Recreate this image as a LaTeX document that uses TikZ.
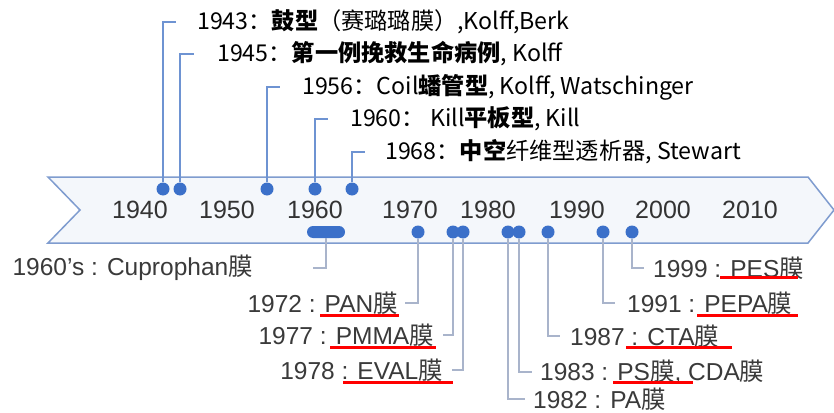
\documentclass[tikz,border=0pt]{standalone}
\usepackage{fontspec}
\setmainfont{Noto Sans CJK SC}
\newfontfamily\latf{Liberation Sans}
\newfontfamily\cjkf{Noto Sans CJK SC}
\usetikzlibrary{calc}
\definecolor{dotblue}{HTML}{3B70C9}
\definecolor{bandline}{HTML}{7F9CCF}
\definecolor{bandfill}{HTML}{F4F7FB}
\definecolor{upline}{HTML}{6E93D2}
\definecolor{lowline}{HTML}{A9B4CB}
\definecolor{greytext}{HTML}{3A3A3A}
\definecolor{yeartext}{HTML}{333333}
\newcommand{\mo}{{\cjkf 膜}}
\begin{document}
\begin{tikzpicture}[x=1pt,y=-1pt,
  dot/.style={circle,fill=dotblue,inner sep=0pt,minimum size=13pt},
  pill/.style={rounded corners=6pt,fill=dotblue,inner sep=0pt,minimum width=38pt,minimum height=12pt},
  uplabel/.style={anchor=west,inner sep=0pt,font=\fontsize{23.2}{25}\selectfont,text=black},
  lowlabel/.style={inner sep=0pt,font=\latf\fontsize{24.5}{26}\selectfont,text=greytext},
  year/.style={inner sep=0pt,font=\latf\fontsize{25}{27}\selectfont,text=yeartext},
  upconn/.style={draw=upline,line width=1.3pt},
  lowconn/.style={draw=lowline,line width=1.3pt},
  redline/.style={draw=red,line width=3pt}]
\useasboundingbox[fill=white] (0,0) rectangle (834,412);
% band
\draw[bandline,line width=1.5pt,fill=bandfill] (48,177) -- (808,177) -- (834,210) -- (808,243) -- (48,243) -- (80,210) -- cycle;
% years
\foreach \yr/\xx in {1940/140,1950/227,1960/315,1970/410,1980/488,1990/577,2000/663,2010/750}
  \node[year] (y\yr) at (\xx,210) {\yr};
% upper dots
\node[dot] (d43) at (163,189) {};
\node[dot] (d45) at (180,189) {};
\node[dot] (d56) at (267,189) {};
\node[dot] (d60) at (315,189) {};
\node[dot] (d68) at (352,189) {};
% lower dots
\node[pill] (d60s) at (326,232) {};
\node[dot] (d72) at (418,232) {};
\node[dot] (d77) at (453,232) {};
\node[dot] (d78) at (463,232) {};
\node[dot] (d82) at (508,232) {};
\node[dot] (d83) at (519,232) {};
\node[dot] (d87) at (548,232) {};
\node[dot] (d91) at (603,232) {};
\node[dot] (d99) at (632,232) {};
% upper labels
\node[uplabel] (t43) at (197,22) {1943：\textbf{鼓型}（赛璐璐膜）,Kolff,Berk};
\node[uplabel] (t45) at (217,54) {1945：\textbf{第一例挽救生命病例}, Kolff};
\node[uplabel] (t56) at (302,87) {1956：Coil\textbf{蟠管型}, Kolff, Watschinger};
\node[uplabel] (t60) at (350,119) {1960： Kill\textbf{平板型}, Kill};
\node[uplabel] (t68) at (385,152) {1968：\textbf{中空}纤维型透析器, Stewart};
% upper connectors
\coordinate (e43) at (176,22);
\coordinate (e45) at (194,54);
\coordinate (e56) at (280,87);
\coordinate (e60) at (328,119);
\coordinate (e68) at (365,152);
\foreach \k in {43,45,56,60,68}
  \draw[upconn] (d\k.north) |- (e\k);
% lower labels
\node[lowlabel,anchor=east] (t60s) at (253,268) {1960’s : Cuprophan\mo};
\node[lowlabel,anchor=east] (t72) at (398,303) {1972 : PAN\mo};
\node[lowlabel,anchor=east] (t77) at (434,335) {1977 : PMMA\mo};
\node[lowlabel,anchor=east] (t78) at (443,370) {1978 : EVAL\mo};
\node[lowlabel,anchor=west] (t99) at (653,268) {1999 : PES\mo};
\node[lowlabel,anchor=west] (t91) at (627,303) {1991 : PEPA\mo};
\node[lowlabel,anchor=west] (t87) at (570,336) {1987 : CTA\mo};
\node[lowlabel,anchor=west] (t83) at (540,372) {1983 : PS\mo, CDA\mo};
\node[lowlabel,anchor=west] (t82) at (533,399) {1982 : PA\mo};
% lower connectors
\coordinate (e60s) at (313,268);
\coordinate (e72) at (405,303);
\coordinate (e77) at (443,335);
\coordinate (e78) at (452,370);
\coordinate (e99) at (644,268);
\coordinate (e91) at (615,303);
\coordinate (e87) at (560,336);
\coordinate (e83) at (532,372);
\coordinate (e82) at (525,399);
\foreach \k in {60s,72,77,78,99,91,87,83,82}
  \draw[lowconn] (d\k.south) |- (e\k);
% red underlines
\draw[redline] (320,315) -- (399,315);
\draw[redline] (330,347) -- (436,347);
\draw[redline] (343,382) -- (453,382);
\draw[redline] (720,277) -- (798,277);
\draw[redline] (697,315) -- (798,315);
\draw[redline] (626,347) -- (732,347);
\draw[redline] (613,382) -- (693,382);
\end{tikzpicture}
\end{document}
